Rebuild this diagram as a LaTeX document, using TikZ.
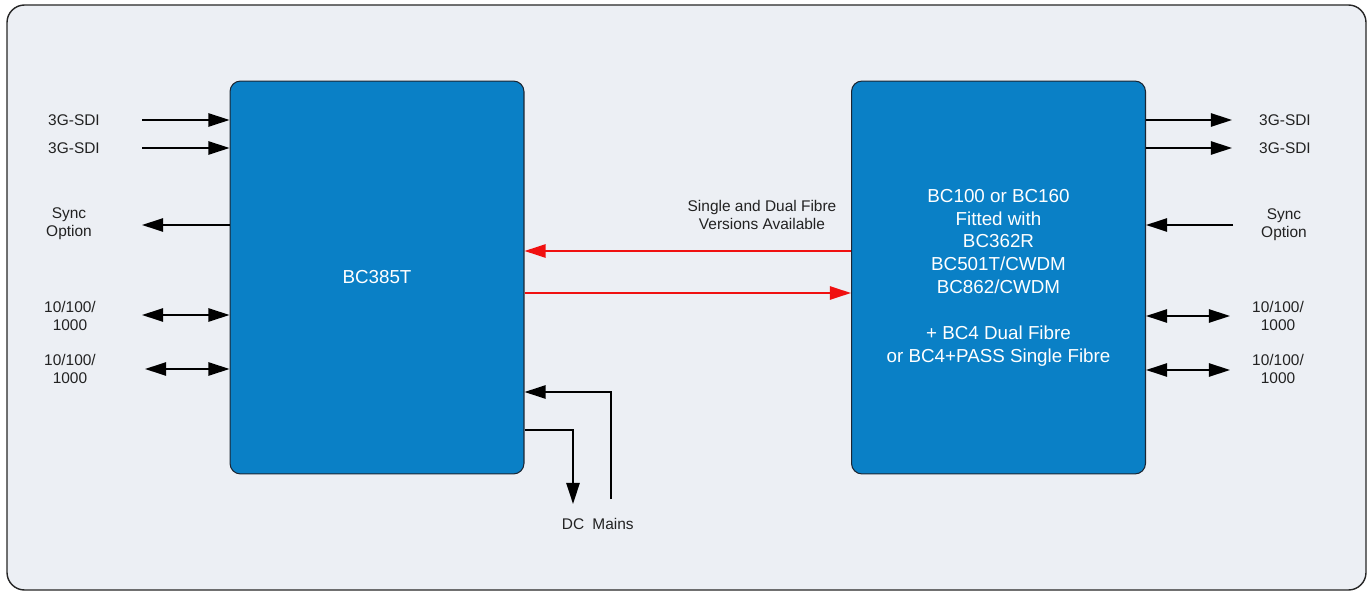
\documentclass[tikz,border=0pt]{standalone}
\usepackage{fontspec}
\setmainfont{Liberation Sans}
\usepackage{tikz}
\usetikzlibrary{arrows.meta}
\definecolor{panel}{HTML}{ECEFF4}
\definecolor{unitblue}{HTML}{0A80C6}
\definecolor{unitline}{HTML}{1B2633}
\definecolor{labelgrey}{HTML}{222222}
\definecolor{fibrered}{HTML}{F01010}
\tikzset{>={Triangle[length=12pt,width=7.5pt]}}
\tikzset{unit/.style = {draw=unitline, line width=0.6pt, fill=unitblue, rounded corners=6pt,
    minimum width=5.88cm, minimum height=7.86cm, text=white, align=center,
    font=\fontsize{10.7}{13}\selectfont}}
\tikzset{lbl/.style = {text=labelgrey, align=center, inner sep=0pt, font=\fontsize{8.8}{10.2}\selectfont}}
\tikzset{sig/.style = {->, line width=1.3pt}}
\tikzset{fibre/.style = {->, line width=1.1pt, draw=fibrered, fill=fibrered}}

\begin{document}
\begin{tikzpicture}[x=0.02cm, y=-0.02cm]
            \useasboundingbox (0,0) rectangle (1372,594);
            \draw[fill=panel, draw=black!85, line width=0.8pt, rounded corners=10pt] (7,5) rectangle (1366,590);

            % Units
            \node[unit] (tx) at (377,277.5) {BC385T};
            \node[unit] (rx) at (998.5,277.5) {BC100 or BC160\\Fitted with\\BC362R\\BC501T/CWDM\\BC862/CWDM\\[13pt]+ BC4 Dual Fibre\\or BC4+PASS Single Fibre};

            % Labels
            % tx side
            \node[lbl] (sdiA) at (74,120) {3G-SDI};
            \node[lbl] (sdiB) at (74,148) {3G-SDI};
            \node[lbl] (syncL) at (69,224) {Sync\\Option};
            \node[lbl] (ethA) at (70,316) {10/100/\\1000};
            \node[lbl] (ethB) at (70,369) {10/100/\\1000};
            \node[lbl] (dc) at (573,524) {DC};
            \node[lbl] (mains) at (613,524) {Mains};
            \node[lbl] (fibre) at (762,215) {Single and Dual Fibre\\Versions Available};

            % rx side
            \node[lbl] (sdiC) at (1285,120) {3G-SDI};
            \node[lbl] (sdiD) at (1285,148) {3G-SDI};
            \node[lbl] (syncR) at (1284,225) {Sync\\Option};
            \node[lbl] (ethC) at (1278,316) {10/100/\\1000};
            \node[lbl] (ethD) at (1278,369) {10/100/\\1000};

            % Free ends
            \coordinate (sdiAe) at (142,120);
            \coordinate (sdiBe) at (142,148);
            \coordinate (syncLe) at (142,225);
            \coordinate (ethAe) at (142,315);
            \coordinate (ethBe) at (145,369);
            \coordinate (dcTurn) at (573,430);
            \coordinate (dcEnd) at (573,504);
            \coordinate (mainsEnd) at (611,499);
            \coordinate (mainsTurn) at (611,392);
            \coordinate (fibreA) at (851,251);
            \coordinate (fibreB) at (524,293);
            \coordinate (sdiCe) at (1232,120);
            \coordinate (sdiDe) at (1232,148);
            \coordinate (syncRe) at (1233,225);
            \coordinate (ethCe) at (1230,316);
            \coordinate (ethDe) at (1230,370);

            % Edges
            % tx
            \draw[sig] (sdiAe) -- (sdiAe -| tx.west);
            \draw[sig] (sdiBe) -- (sdiBe -| tx.west);
            \draw[sig] (syncLe -| tx.west) -- (syncLe);
            \draw[sig, <->] (ethAe) -- (ethAe -| tx.west);
            \draw[sig, <->] (ethBe) -- (ethBe -| tx.west);
            \draw[sig] (dcTurn -| tx.east) -- (dcTurn) -- (dcEnd);
            \draw[sig] (mainsEnd) -- (mainsTurn) -- (mainsTurn -| tx.east);

            % fibre
            \draw[fibre] (fibreA -| rx.west) -- (fibreA -| tx.east);
            \draw[fibre] (fibreB -| tx.east) -- (fibreB -| rx.west);

            % rx
            \draw[sig] (sdiCe -| rx.east) -- (sdiCe);
            \draw[sig] (sdiDe -| rx.east) -- (sdiDe);
            \draw[sig] (syncRe) -- (syncRe -| rx.east);
            \draw[sig, <->] (ethCe -| rx.east) -- (ethCe);
            \draw[sig, <->] (ethDe -| rx.east) -- (ethDe);
\end{tikzpicture}
\end{document}
